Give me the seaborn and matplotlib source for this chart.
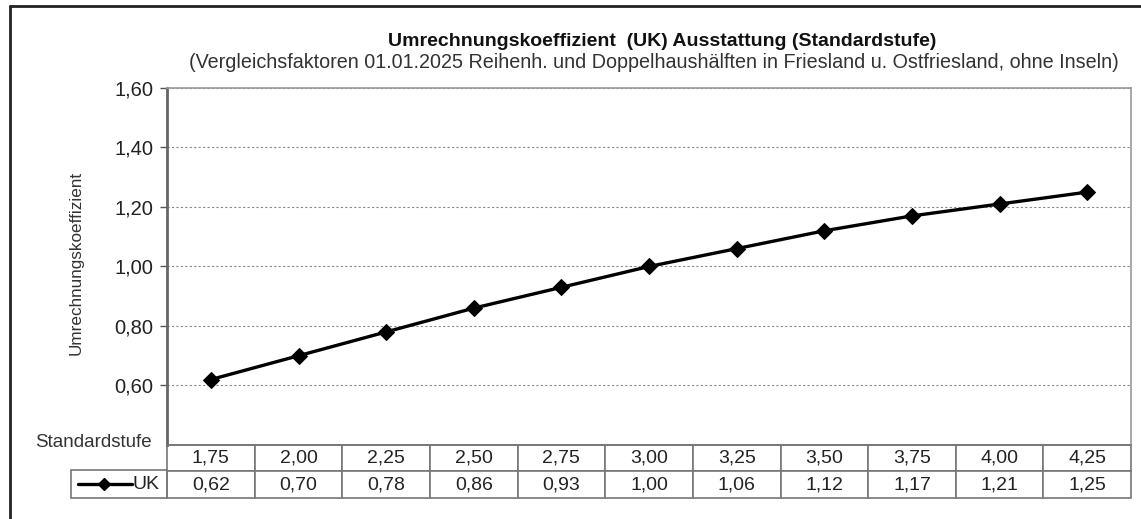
import matplotlib
matplotlib.use("Agg")
import matplotlib.pyplot as plt
from matplotlib.lines import Line2D
from matplotlib.patches import Rectangle
import numpy as np
import pandas as pd
import seaborn as sns

# data
stufen = [1.75, 2.00, 2.25, 2.50, 2.75, 3.00, 3.25, 3.50, 3.75, 4.00, 4.25]
uk = [0.62, 0.70, 0.78, 0.86, 0.93, 1.00, 1.06, 1.12, 1.17, 1.21, 1.25]
y_ticks = [0.60, 0.80, 1.00, 1.20, 1.40, 1.60]

title = "Umrechnungskoeffizient  (UK) Ausstattung (Standardstufe)"
subtitle = ("(Vergleichsfaktoren 01.01.2025 Reihenh. und Doppelhaushälften "
            "in Friesland u. Ostfriesland, ohne Inseln)")


def de(v):
    return f"{v:.2f}".replace(".", ",")


sns.set_theme(style="white")
plt.rcParams["font.family"] = ["Liberation Sans", "DejaVu Sans"]

df = pd.DataFrame({"pos": np.arange(len(stufen)), "UK": uk})

fig = plt.figure(figsize=(11.41, 5.19), dpi=100)
ax = fig.add_axes([0.1464, 0.1426, 0.8449, 0.6879])

sns.lineplot(data=df, x="pos", y="UK", ax=ax, color="black", linewidth=2.4,
             marker="D", markersize=8, markeredgecolor="black")

ax.set_xlim(-0.5, len(stufen) - 0.5)
ax.set_ylim(0.40, 1.60)
ax.set_yticks(y_ticks)
ax.set_yticklabels([de(v) for v in y_ticks], fontsize=14.5, color="#222222")
ax.set_xticks([])
ax.set_xlabel("")
ax.set_ylabel("Umrechnungskoeffizient", fontsize=12.3, color="#333333")
ax.yaxis.set_label_coords(-0.087, 0.51)
ax.tick_params(axis="y", left=True, length=5, width=1, color="#555555", pad=5)
ax.grid(axis="y", color="#888888", linestyle=(0, (2, 2)), linewidth=0.8)

for s in ["top", "right"]:
    ax.spines[s].set_color("#999999")
    ax.spines[s].set_linewidth(1.2)
ax.spines["left"].set_color("#666666")
ax.spines["left"].set_linewidth(2.0)
ax.spines["bottom"].set_color("#777777")
ax.spines["bottom"].set_linewidth(1.2)

# data table below the axis
tab = ax.table(cellText=[[de(v) for v in stufen], [de(v) for v in uk]],
               cellLoc="center", bbox=[0, -0.1485, 1, 0.1485])
tab.auto_set_font_size(False)
for (r, c), cell in tab.get_celld().items():
    cell.set_edgecolor("#777777")
    cell.set_linewidth(1.2)
    cell.get_text().set_fontsize(14)
    cell.get_text().set_color("#222222")

# legend cell of the table
ax.add_patch(Rectangle((-0.0996, -0.1485), 0.0996, 0.0785, transform=ax.transAxes,
                       fill=False, edgecolor="#777777", linewidth=1.2, clip_on=False))
ax.add_line(Line2D([-0.0923, -0.0363], [-0.110, -0.110], transform=ax.transAxes,
                   color="black", linewidth=2.4, clip_on=False))
ax.plot([-0.0653], [-0.110], transform=ax.transAxes, marker="D", markersize=6.5,
        color="black", clip_on=False)
ax.text(-0.0355, -0.110, "UK", transform=ax.transAxes, fontsize=14,
        color="#222222", ha="left", va="center")
ax.text(-0.0155, 0.006, "Standardstufe", transform=ax.transAxes, fontsize=13.5,
        color="#333333", ha="right", va="center")

fig.text(0.580, 0.921, title, fontsize=14, fontweight="bold", ha="center",
         va="center", color="#111111")
fig.text(0.573, 0.880, subtitle, fontsize=14.2, ha="center", va="center",
         color="#333333")

# outer frame of the chart object
fig.add_artist(Line2D([0.0092, 0.0092], [0.0, 0.989], color="#222222", linewidth=2.0))
fig.add_artist(Line2D([0.0092, 1.0], [0.989, 0.989], color="#222222", linewidth=2.0))

fig.savefig("out.png", dpi=100)
